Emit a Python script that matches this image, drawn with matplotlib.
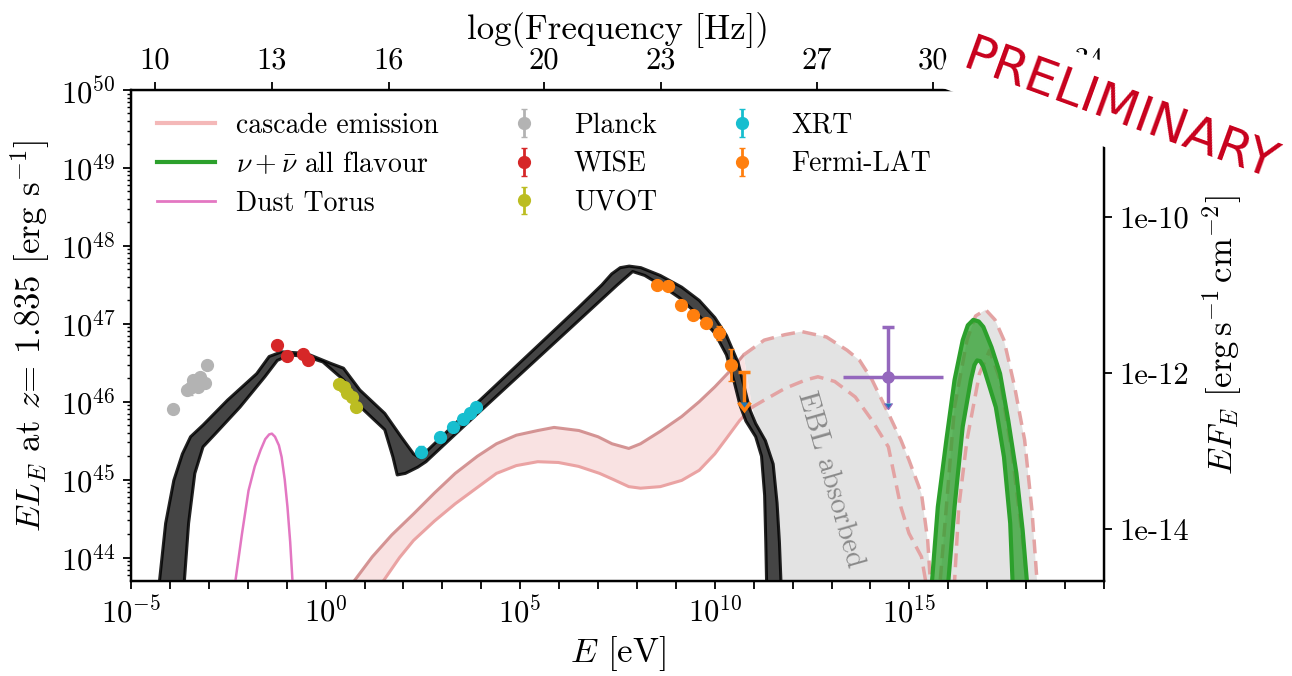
import numpy as np
import matplotlib
matplotlib.use("Agg")
import matplotlib.pyplot as plt
from matplotlib.ticker import FixedLocator, FuncFormatter, NullLocator, LogLocator
from matplotlib.lines import Line2D

plt.rcParams['font.family'] = ['cmr10', 'DejaVu Serif']
plt.rcParams['mathtext.fontset'] = 'cm'
plt.rcParams['axes.formatter.use_mathtext'] = True
plt.rcParams['axes.unicode_minus'] = False

# ---------------- data (log10 E [eV], log10 EL_E [erg/s]) ----------------
# black band (SSC/EC model), upper & lower edges
blk_up_E = [-4.27, -4.11, -3.90, -3.68, -3.47, -3.15, -2.52, -1.77, -1.45, -1.13, -0.50, 0.14, 0.46, 0.88, 1.52, 1.94, 2.26, 2.42,
            3.5, 4.5, 5.5, 6.5, 7.1, 7.35, 7.57, 7.8, 8.1, 8.6, 9.15, 9.6, 10.0, 10.3, 10.6, 10.75, 10.9, 11.05, 11.3, 11.5, 11.6, 11.66, 11.7]
blk_up_L = [43.69, 44.44, 44.99, 45.33, 45.55, 45.70, 46.02, 46.36, 46.58, 46.64, 46.62, 46.49, 46.43, 46.15, 45.85, 45.55, 45.33, 45.28,
            45.80, 46.27, 46.74, 47.21, 47.50, 47.64, 47.72, 47.74, 47.72, 47.62, 47.47, 47.30, 47.08, 46.85, 46.50, 46.20, 45.90, 45.72, 45.50, 45.20, 44.70, 44.20, 43.69]
blk_lo_E = [-3.63, -3.52, -3.36, -3.15, -2.83, -2.20, -1.56, -1.24, -0.92, -0.50, -0.07, 0.46, 0.88, 1.52, 1.73, 1.84, 2.05, 2.37, 2.58,
            3.5, 4.5, 5.5, 6.5, 7.5, 7.89, 8.2, 8.6, 9.1, 9.6, 10.0, 10.3, 10.5, 10.65, 10.8, 11.05, 11.2, 11.28, 11.31, 11.33]
blk_lo_L = [43.69, 44.44, 45.08, 45.42, 45.59, 45.93, 46.32, 46.53, 46.60, 46.58, 46.51, 46.28, 45.94, 45.64, 45.29, 45.06, 45.08, 45.16, 45.23,
            45.66, 46.12, 46.58, 47.04, 47.50, 47.67, 47.62, 47.50, 47.33, 47.10, 46.88, 46.60, 46.25, 45.95, 45.75, 45.55, 45.30, 44.80, 44.20, 43.69]

# cascade emission band (EBL-absorbed, solid)
cas_up_E = [0.60, 0.72, 1.2, 1.7, 2.26, 2.8, 3.33, 3.9, 4.39, 4.9, 5.45, 5.87, 6.51, 7.0, 7.36, 7.79, 8.09, 8.6, 9.15, 9.6, 10.0, 10.4, 10.74]
cas_up_L = [43.62, 43.69, 44.01, 44.29, 44.56, 44.83, 45.08, 45.30, 45.46, 45.57, 45.63, 45.67, 45.63, 45.55, 45.46, 45.40, 45.46, 45.62, 45.81, 46.00, 46.19, 46.40, 46.60]
cas_lo_E = [1.35, 1.47, 1.9, 2.26, 2.8, 3.33, 3.9, 4.39, 4.9, 5.45, 5.98, 6.5, 7.04, 7.4, 7.79, 8.09, 8.6, 9.15, 9.6, 10.0, 10.3, 10.64, 10.96]
cas_lo_L = [43.62, 43.69, 44.00, 44.22, 44.47, 44.69, 44.90, 45.08, 45.18, 45.23, 45.22, 45.17, 45.08, 45.00, 44.91, 44.89, 44.91, 44.99, 45.12, 45.33, 45.53, 45.76, 45.93]

# unabsorbed cascade (dashed), outer and inner curves
unab_up_E = [10.74, 11.27, 11.8, 12.23, 12.87, 13.4, 13.72, 14.04, 14.46, 14.78, 14.99, 15.31, 15.47, 15.55, 15.65,
             15.79, 15.95, 16.16, 16.48, 16.7, 16.96, 17.2, 17.43, 17.7, 17.96, 18.15, 18.28, 18.35]
unab_up_L = [46.60, 46.79, 46.86, 46.90, 46.83, 46.66, 46.53, 46.28, 45.85, 45.51, 45.25, 44.82, 44.22, 43.60, 43.60,
             43.69, 44.65, 45.93, 46.79, 47.10, 47.18, 47.05, 46.79, 46.20, 45.51, 44.60, 43.69, 43.30]
unab_lo_E = [10.96, 11.27, 11.8, 12.34, 12.65, 13.08, 13.61, 14.04, 14.46, 14.78, 14.99, 15.31, 15.42, 15.6, 16.0,
             16.16, 16.27, 16.48, 16.8, 17.06, 17.33, 17.65, 17.91, 18.02, 18.1]
unab_lo_L = [45.93, 46.02, 46.17, 46.28, 46.32, 46.26, 46.06, 45.76, 45.42, 44.65, 44.31, 44.01, 43.69, 43.3, 43.3,
             43.69, 44.65, 45.51, 46.36, 46.66, 46.28, 45.29, 44.22, 43.69, 43.3]
# left boundary of the grey "EBL absorbed" region (absorbed cascade cut-off)
ebl_cut_E = [11.45, 11.30, 10.96]
ebl_cut_L = [43.00, 45.30, 45.93]

# neutrino band
nu_up_E = [15.52, 15.58, 15.73, 15.95, 16.16, 16.37, 16.5, 16.64, 16.78, 16.9, 17.11, 17.33, 17.54, 17.75, 17.91, 18.02, 18.06]
nu_up_L = [43.30, 43.69, 44.65, 45.51, 46.28, 46.79, 46.98, 47.05, 47.03, 46.96, 46.70, 46.36, 45.76, 45.08, 44.35, 43.69, 43.30]
nu_lo_E = [15.96, 16.0, 16.16, 16.37, 16.58, 16.67, 16.74, 16.82, 16.9, 17.22, 17.43, 17.59, 17.65, 17.68]
nu_lo_L = [43.30, 43.69, 44.65, 45.68, 46.28, 46.47, 46.53, 46.52, 46.45, 45.93, 45.29, 44.44, 43.69, 43.30]

# dust torus
dust_E = [-2.40, -2.32, -2.15, -1.98, -1.82, -1.67, -1.55, -1.45, -1.38, -1.30, -1.20, -1.13, -1.05, -0.98, -0.91, -0.85, -0.82]
dust_L = [43.30, 43.69, 44.30, 44.86, 45.17, 45.38, 45.52, 45.58, 45.59, 45.55, 45.44, 45.29, 45.00, 44.65, 44.20, 43.69, 43.30]

# observations
planck_E = [-3.91, -3.57, -3.48, -3.40, -3.27, -3.23, -3.10, -3.04]
planck_L = [45.91, 46.15, 46.17, 46.28, 46.19, 46.32, 46.24, 46.47]
planck_err = [0.03, 0.05, 0.08, 0.04, 0.04, 0.03, 0.04, 0.03]
wise_E = [-1.26, -1.00, -0.57, -0.44]
wise_L = [46.73, 46.59, 46.61, 46.53]
wise_err = [0.03, 0.03, 0.03, 0.03]
uvot_E = [0.35, 0.46, 0.56, 0.67, 0.78]
uvot_L = [46.23, 46.19, 46.11, 46.06, 45.93]
uvot_err = [0.04, 0.04, 0.04, 0.04, 0.04]
xrt_E = [2.45, 2.95, 3.27, 3.54, 3.70, 3.86]
xrt_L = [45.36, 45.55, 45.68, 45.78, 45.85, 45.93]
xrt_err = [0.07, 0.04, 0.04, 0.04, 0.04, 0.05]
lat_E = [8.51, 8.81, 9.13, 9.45, 9.77, 10.11, 10.42]
lat_L = [47.50, 47.48, 47.24, 47.11, 47.01, 46.88, 46.47]
lat_err = [0.03, 0.03, 0.03, 0.03, 0.04, 0.09, 0.20]
lat_ul_E = [10.74]
lat_ul_L = [46.38]
lat_ul_len = [0.38]

# neutrino point (purple)
nupt_E = 14.44
nupt_L = 46.32
nupt_Elo, nupt_Ehi = 13.29, 15.87
nupt_Llo, nupt_Lhi = 45.98, 46.96

top_ticks = [10, 13, 16, 20, 23, 27, 30, 34]
right_ticks = [1e-14, 1e-12, 1e-10]
bottom_labelled = [-5, 0, 5, 10, 15]
log_flux_factor = 58.367   # log10(EL_E / EF_E)
log_h_eVs = -14.3834       # log10(h [eV s])

# ---------------- figure ----------------
W, H = 1292, 676
fig = plt.figure(figsize=(W / 100, H / 100), dpi=100)
ax = fig.add_axes([131 / W, 1 - 581 / H, (1104 - 131) / W, (581 - 90) / H])

p = lambda a: 10 ** np.asarray(a, dtype=float)

# grey EBL absorbed region
gx = list(unab_up_E) + [unab_up_E[-1]] + list(ebl_cut_E)
gy = list(unab_up_L) + [43.0] + list(ebl_cut_L)
ax.fill(p(gx), p(gy), color='#e3e3e3', lw=0, zorder=1)

# cascade band
ax.fill(p(cas_up_E + cas_lo_E[::-1]), p(cas_up_L + cas_lo_L[::-1]), color='#f9e2e2', lw=0, zorder=2)
ax.plot(p(cas_up_E), p(cas_up_L), color='#d08a8a', lw=2.2, alpha=0.9, zorder=2.2)
ax.plot(p(cas_lo_E), p(cas_lo_L), color='#eaa3a3', lw=2.2, zorder=2.2)

# dashed unabsorbed
ax.plot(p(unab_up_E), p(unab_up_L), color='#e3a3a3', lw=2.5, ls=(0, (4, 2.2)), zorder=2.5)
ax.plot(p(unab_lo_E), p(unab_lo_L), color='#e3a3a3', lw=2.5, ls=(0, (4, 2.2)), zorder=2.5)

# black model band
ax.fill(p(blk_up_E + blk_lo_E[::-1]), p(blk_up_L + blk_lo_L[::-1]), color='#454545', lw=0, zorder=3)
ax.plot(p(blk_up_E), p(blk_up_L), color='k', lw=2.2, alpha=0.85, zorder=3.1)
ax.plot(p(blk_lo_E), p(blk_lo_L), color='k', lw=2.2, alpha=0.85, zorder=3.1)

# neutrino band
ax.fill(p(nu_up_E + nu_lo_E[::-1]), p(nu_up_L + nu_lo_L[::-1]), color='#2ca02c', alpha=0.75, lw=0, zorder=3)
ax.plot(p(nu_up_E), p(nu_up_L), color='#2ca02c', lw=3, zorder=3.2)
ax.plot(p(nu_lo_E), p(nu_lo_L), color='#2ca02c', lw=3, zorder=3.2)

# dust torus
ax.plot(p(dust_E), p(dust_L), color='#e377c2', lw=1.8, zorder=2.6)

def yerr_of(L, e):
    L = np.asarray(L); e = np.asarray(e)
    return [p(L) - p(L - e), p(L + e) - p(L)]

ms = 8.5
h_pl = ax.errorbar(p(planck_E), p(planck_L), yerr=yerr_of(planck_L, planck_err), fmt='o', color='#b3b3b3', ms=ms, capsize=2, elinewidth=2, zorder=5)
h_wi = ax.errorbar(p(wise_E), p(wise_L), yerr=yerr_of(wise_L, wise_err), fmt='o', color='#d62728', ms=ms, capsize=2, elinewidth=2, zorder=5)
h_uv = ax.errorbar(p(uvot_E), p(uvot_L), yerr=yerr_of(uvot_L, uvot_err), fmt='o', color='#bcbd22', ms=ms, capsize=2, elinewidth=2, zorder=5)
h_xr = ax.errorbar(p(xrt_E), p(xrt_L), yerr=yerr_of(xrt_L, xrt_err), fmt='o', color='#17becf', ms=ms, capsize=2, elinewidth=2, zorder=5)
h_la = ax.errorbar(p(lat_E), p(lat_L), yerr=yerr_of(lat_L, lat_err), fmt='o', color='#ff7f0e', ms=ms, capsize=2, elinewidth=2, zorder=5)
ul = np.asarray(lat_ul_L); ull = np.asarray(lat_ul_len)
ax.errorbar(p(lat_ul_E), p(ul), yerr=[p(ul) - p(ul - ull), np.zeros_like(ul)], uplims=True, fmt='none',
            ecolor='#ff7f0e', elinewidth=2.5, capsize=4, capthick=2.5, zorder=5)

# purple neutrino point: horizontal bar, capped upper bar, arrow-ended lower bar
pc = '#9467bd'
ax.errorbar([p(nupt_E)], [p(nupt_L)], xerr=[[p(nupt_E) - p(nupt_Elo)], [p(nupt_Ehi) - p(nupt_E)]],
            fmt='o', color=pc, ms=8, elinewidth=2.5, capsize=0, zorder=5)
ax.errorbar([p(nupt_E)], [p(nupt_L)], yerr=[[0.0], [p(nupt_Lhi) - p(nupt_L)]],
            fmt='none', ecolor=pc, elinewidth=2.5, capsize=4, capthick=2.5, zorder=5)
ax.errorbar([p(nupt_E)], [p(nupt_L)], yerr=[[p(nupt_L) - p(nupt_Llo)], [0.0]], uplims=True,
            fmt='none', ecolor=pc, elinewidth=2.5, capsize=0, zorder=5)

ax.text(p(12.96), p(45.0), 'EBL absorbed', rotation=-74, color='#8a8a8a', fontsize=21,
        ha='center', va='center', zorder=4)

# axes setup
ax.set_xscale('log'); ax.set_yscale('log')
ax.set_xlim(1e-5, 1e20)
ax.set_ylim(10 ** 43.699, 1e50)
ax.xaxis.set_major_locator(FixedLocator(p(np.arange(-5, 21))))
ax.xaxis.set_major_formatter(FuncFormatter(
    lambda v, pos: r'$10^{%d}$' % round(np.log10(v)) if round(np.log10(v)) in bottom_labelled else ''))
ax.xaxis.set_minor_locator(NullLocator())
ax.yaxis.set_major_locator(FixedLocator(p(np.arange(44, 51))))
ax.yaxis.set_major_formatter(FuncFormatter(lambda v, pos: r'$10^{%d}$' % round(np.log10(v))))
ax.yaxis.set_minor_locator(LogLocator(base=10, subs=np.arange(2, 10), numticks=50))
for s in ax.spines.values():
    s.set_linewidth(1.6)
ax.tick_params(which='major', length=6, width=1.3, labelsize=22, pad=5)
ax.tick_params(which='minor', length=3, width=1.0)
ax.set_xlabel(r'$E$ [eV]', fontsize=25, labelpad=4)
ax.set_ylabel(r'$EL_E$ at $z$= 1.835 [erg s$^{-1}$]', fontsize=25, labelpad=6)

# right axis
axr = ax.twinx()
axr.set_yscale('log')
axr.set_ylim(10 ** (43.699 - log_flux_factor), 10 ** (50 - log_flux_factor))
axr.yaxis.set_major_locator(FixedLocator(right_ticks))
axr.yaxis.set_major_formatter(FuncFormatter(lambda v, pos: '1e-%d' % round(-np.log10(v))))
axr.yaxis.set_minor_locator(NullLocator())
axr.tick_params(which='major', length=6, width=1.3, labelsize=22, pad=5)
axr.set_ylabel(r'$EF_E\ [\mathrm{erg\,s^{-1}\,cm^{-2}}]$', fontsize=25, labelpad=8)
for s in axr.spines.values():
    s.set_linewidth(1.6)

# top axis
axt = ax.twiny()
axt.set_xscale('log')
axt.set_xlim(ax.get_xlim())
axt.xaxis.set_major_locator(FixedLocator([10 ** (n + log_h_eVs) for n in top_ticks]))
axt.xaxis.set_major_formatter(FuncFormatter(lambda v, pos: '%d' % round(np.log10(v) - log_h_eVs)))
axt.xaxis.set_minor_locator(NullLocator())
axt.tick_params(which='major', length=6, width=1.3, labelsize=22, pad=5)
axt.set_xlabel('log(Frequency [Hz])', fontsize=25, labelpad=6)

# legend
handles = [Line2D([], [], color='#f4b8b8', lw=3),
           Line2D([], [], color='#2ca02c', lw=3),
           Line2D([], [], color='#e377c2', lw=2),
           h_pl, h_wi, h_uv, h_xr, h_la]
labels = ['cascade emission', r'$\nu+\bar{\nu}$ all flavour', 'Dust Torus',
          'Planck', 'WISE', 'UVOT', 'XRT', 'Fermi-LAT']
ax.legend(handles, labels, ncol=3, loc='upper left', bbox_to_anchor=(0.004, 1.0), frameon=False,
          fontsize=20, handlelength=2.1, handletextpad=0.75, columnspacing=2.0, labelspacing=0.45,
          borderaxespad=0.4)

# watermark
fig.text(1120 / W, 1 - 110 / H, 'PRELIMINARY', rotation=-20, color='#c8001c', fontsize=36,
         family='DejaVu Sans', ha='center', va='center', rotation_mode='anchor',
         bbox=dict(boxstyle='square,pad=0.32', fc='white', ec='none'), zorder=20)

fig.savefig('out.png', dpi=100)
